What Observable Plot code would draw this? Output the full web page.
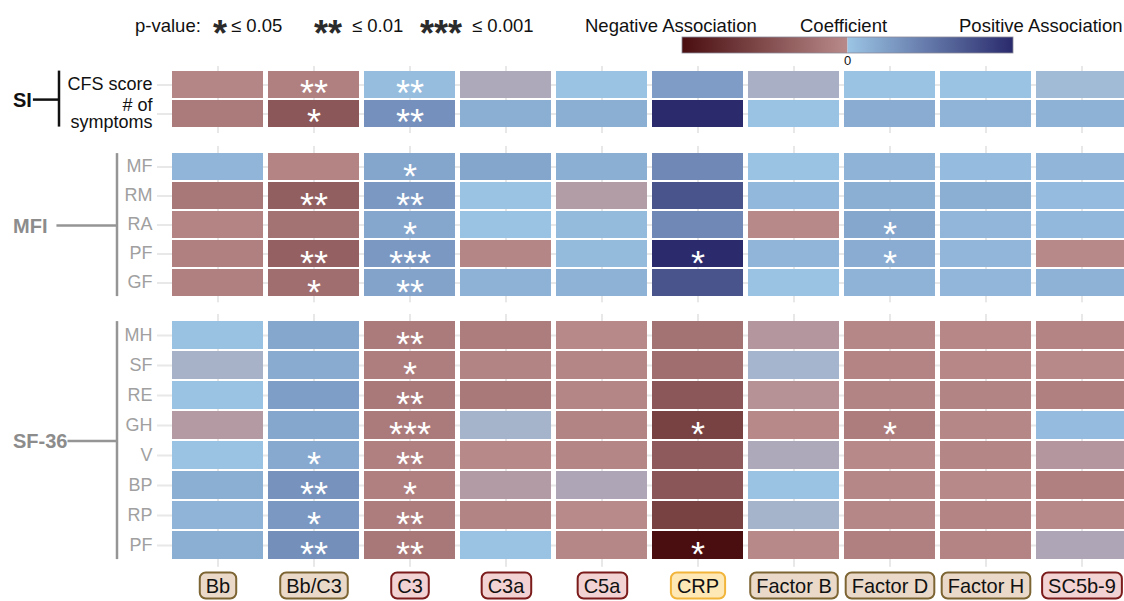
<!DOCTYPE html>
<html><head><meta charset="utf-8">
<script src="https://cdn.jsdelivr.net/npm/d3@7"></script>
<script src="https://cdn.jsdelivr.net/npm/@observablehq/plot@0.6"></script>
<style>
html,body{margin:0;padding:0;background:#ffffff;overflow:hidden;}
#root{position:relative;width:1124px;height:601px;overflow:hidden;font-family:"Liberation Sans",Arial,sans-serif;}
#root > *{position:absolute;left:0;}
</style></head><body><div id="root"></div>
<script>
// ---------------- DATA ----------------
const analytes = ["Bb","Bb/C3","C3","C3a","C5a","CRP","Factor B","Factor D","Factor H","SC5b-9"];
const analyteGroup = ["alt","alt","cls","cls","cls","crp","alt","alt","alt","cls"];

const siMeasures = ["CFS score","# of symptoms"];
const siLabels = ["CFS score","# of\nsymptoms"];
const siCoef = [
  [-0.055,-0.10, 0.065, 0.0,  0.03, 0.275, 0.005,0.025,0.03, 0.013],
  [-0.14, -0.42, 0.35,  0.16, 0.16, 1.0,   0.025,0.17, 0.12, 0.135]
];
const siSig = [
  ["","**","**","","","","","","",""],
  ["","*","**","","","","","","",""]
];

const mfiMeasures = ["MF","RM","RA","PF","GF"];
const mfiLabels = ["MF","RM","RA","PF","GF"];
const mfiCoef = [
  [ 0.115,-0.064,0.22, 0.22,  0.16,  0.40, 0.025,0.13,0.07, 0.115],
  [-0.17, -0.36, 0.30, 0.025,-0.008, 0.73, 0.095,0.16,0.16, 0.07],
  [-0.064,-0.21, 0.21, 0.03,  0.084, 0.40,-0.03, 0.21,0.11, 0.095],
  [-0.10, -0.35, 0.30,-0.055, 0.084, 1.0,  0.115,0.17,0.11,-0.03],
  [-0.10, -0.24, 0.23, 0.135, 0.135, 0.73, 0.025,0.13,0.11, 0.135]
];
const mfiSig = [
  ["","","*","","","","","","",""],
  ["","**","**","","","","","","",""],
  ["","","*","","","","","*","",""],
  ["","**","***","","","*","","*","",""],
  ["","*","**","","","","","","",""]
];

const sfMeasures = ["MH","SF","RE","GH","V","BP","RP","PF"];
const sfLabels = ["MH","SF","RE","GH","V","BP","RP","PF"];
const sfCoef = [
  [ 0.035,0.21,-0.14, -0.125,-0.025,-0.21,-0.012,-0.046,-0.04, -0.064],
  [ 0.007,0.18,-0.117,-0.07, -0.055,-0.24, 0.009,-0.064,-0.04, -0.025],
  [ 0.025,0.26,-0.16, -0.16, -0.055,-0.42,-0.015,-0.07, -0.07, -0.10],
  [-0.01, 0.21,-0.14,  0.008,-0.07, -0.59,-0.03, -0.125,-0.046, 0.07],
  [ 0.025,0.19,-0.10, -0.025,-0.055,-0.40, 0.0,  -0.025,-0.055,-0.012],
  [ 0.16, 0.34,-0.10, -0.009,-0.002,-0.43, 0.025,-0.046,-0.03, -0.10],
  [ 0.12, 0.30,-0.125,-0.07, -0.022,-0.59, 0.008,-0.046,-0.064,-0.025],
  [ 0.16, 0.36,-0.17,  0.025,-0.046,-1.0, -0.025,-0.10, -0.064,-0.002]
];
const sfSig = [
  ["","","**","","","","","","",""],
  ["","","*","","","","","","",""],
  ["","","**","","","","","","",""],
  ["","","***","","","*","","*","",""],
  ["","*","**","","","","","","",""],
  ["","**","*","","","","","","",""],
  ["","*","**","","","","","","",""],
  ["","**","**","","","*","","","",""]
];

const instrumentNames = ["SI","MFI","SF-36"];
const pLegendStars = ["*","**","***"];
const pLegendLabels = ["≤ 0.05","≤ 0.01","≤ 0.001"];

// ---------------- STYLE / LAYOUT ----------------
const colorDomain = [-1,-0.02,0,0.02,1];
const colorRange = ["#4a0e10","#b98a8a","#ada9bb","#9bc4e4","#2a2a6c"];
const groupStyle = {
  alt: {fill:"#ead9c9", stroke:"#7d6433"},
  cls: {fill:"#f2d2d2", stroke:"#7b1b1b"},
  crp: {fill:"#fee8b5", stroke:"#f2b53c"}
};
const FONT = '"Liberation Sans", Arial, sans-serif';
const PAD = 4;
const panels = [
  {name:instrumentNames[0], measures:siMeasures, labels:siLabels, coef:siCoef, sig:siSig, top:65.6, step:29.5, labelColor:"#111", bracketColor:"#111", bracketX:59, gap:1},
  {name:instrumentNames[1], measures:mfiMeasures, labels:mfiLabels, coef:mfiCoef, sig:mfiSig, top:146.1, step:29.66, labelColor:"#a0a0a0", bracketColor:"#959595", bracketX:117, gap:9},
  {name:instrumentNames[2], measures:sfMeasures, labels:sfLabels, coef:sfCoef, sig:sfSig, top:314.1, step:30.6, labelColor:"#a0a0a0", bracketColor:"#959595", bracketX:117, gap:0}
];

const root = document.getElementById("root");

function makePanel(p, isLast) {
  const data = p.measures.flatMap((m,i)=>analytes.map((a,j)=>({measure:m, analyte:a, coef:p.coef[i][j], sig:p.sig[i][j]})));
  const n = p.measures.length;
  const frameH = n*p.step + 2*PAD;
  const mb = isLast ? 34 : 0;
  const marks = [
    Plot.gridX({stroke:"#e8e8e8", strokeOpacity:1, strokeWidth:2}),
    Plot.gridY({stroke:"#e8e8e8", strokeOpacity:1, strokeWidth:2}),
    Plot.axisY({tickSize:0, tickPadding:5, color:p.labelColor, label:null, fontSize:18, lineHeight:0.95,
      tickFormat:(d)=>p.labels[p.measures.indexOf(d)]}),
    Plot.cell(data, {x:"analyte", y:"measure", fill:"coef", inset:0}),
    Plot.text(data.filter(d=>d.sig), {x:"analyte", y:"measure", text:"sig", fill:"white", fontSize:36, dy:9})
  ];
  if (isLast) marks.push(Plot.axisX({anchor:"bottom", tickSize:0, tickPadding:11, label:null, color:"#111", fontSize:20}));
  const plot = Plot.plot({
    width:1133, height:frameH+mb, marginLeft:157, marginRight:0, marginTop:0, marginBottom:mb,
    style:{background:"transparent", fontFamily:FONT, fontSize:"18px", maxWidth:"none", overflow:"visible"},
    x:Object.assign({domain:analytes, range:[167.5,1132.5], paddingInner:0.05, paddingOuter:0.025}, isLast?{}:{axis:null}),
    y:{domain:p.measures, range:[PAD, PAD+n*p.step], paddingInner:0.06, paddingOuter:0.03},
    color:{type:"linear", domain:colorDomain, range:colorRange, interpolate:"rgb"},
    marks
  });
  plot.style.top = p.top + "px";
  root.appendChild(plot);
  return plot;
}

const plots = panels.map((p,i)=>makePanel(p, i===panels.length-1));

// boxed x labels
{
  const svg = plots[plots.length-1];
  svg.querySelectorAll('g[aria-label="x-axis tick label"] text').forEach(t=>{
    const idx = analytes.indexOf(t.textContent);
    const st = groupStyle[analyteGroup[idx]];
    const bb = t.getBBox();
    const r = document.createElementNS("http://www.w3.org/2000/svg","rect");
    r.setAttribute("x", bb.x-6); r.setAttribute("y", bb.y-2);
    r.setAttribute("width", bb.width+12); r.setAttribute("height", bb.height+4);
    r.setAttribute("rx", 6);
    r.setAttribute("fill", st.fill); r.setAttribute("stroke", st.stroke); r.setAttribute("stroke-width", 2);
    if (t.getAttribute("transform")) r.setAttribute("transform", t.getAttribute("transform"));
    t.parentNode.insertBefore(r, t);
  });
}

// brackets
{
  const ov = d3.create("svg").attr("width",1124).attr("height",601).style("top","0px").style("font-family",FONT);
  root.appendChild(ov.node());
  panels.forEach((p,i)=>{
    const y = plots[i].scale("y");
    const top = p.top + y.apply(p.measures[0]);
    const bot = p.top + y.apply(p.measures[p.measures.length-1]) + y.bandwidth;
    const mid = (top+bot)/2;
    const t = ov.append("text").attr("x",13).attr("y",mid+1).attr("dominant-baseline","central")
      .attr("font-size",20).attr("font-weight","bold").attr("fill",i===0?"#111":"#8c8c8c").text(p.name);
    const bb = t.node().getBBox();
    ov.append("line").attr("x1",bb.x+bb.width+p.gap).attr("x2",p.bracketX).attr("y1",mid+1).attr("y2",mid+1)
      .attr("stroke",p.bracketColor).attr("stroke-width",2.5);
    ov.append("line").attr("x1",p.bracketX).attr("x2",p.bracketX).attr("y1",top).attr("y2",bot)
      .attr("stroke",p.bracketColor).attr("stroke-width",2.5);
  });
}

// legend
{
  const lg = d3.create("svg").attr("width",1124).attr("height",66).style("top","0px").style("font-family",FONT);
  root.appendChild(lg.node());
  lg.append("text").attr("x",135).attr("y",25).attr("dominant-baseline","central").attr("font-size",18.5).attr("fill","#111").text("p-value:");
  const starX = [213,314,420], labX = [231,352,472];
  pLegendStars.forEach((s,i)=>{
    lg.append("text").attr("x",starX[i]).attr("y",25+20.5).attr("font-size",36).attr("font-weight","bold").attr("fill","#2a2a2a").text(s);
    lg.append("text").attr("x",labX[i]).attr("y",25).attr("dominant-baseline","central").attr("font-size",18.5).attr("fill","#111").text(pLegendLabels[i]);
  });
  lg.append("text").attr("x",585).attr("y",25).attr("dominant-baseline","central").attr("font-size",18.5).attr("fill","#111").text("Negative Association");
  lg.append("text").attr("x",800).attr("y",25).attr("dominant-baseline","central").attr("font-size",18.5).attr("fill","#111").text("Coefficient");
  lg.append("text").attr("x",959).attr("y",25).attr("dominant-baseline","central").attr("font-size",18.5).attr("fill","#111").text("Positive Association");
  const cs = d3.scaleLinear().domain(colorDomain).range(colorRange).interpolate(d3.interpolateRgb);
  const defs = lg.append("defs");
  const halves = [[-1,-0.02,"gneg"],[0.02,1,"gpos"]];
  halves.forEach(([a,b,id])=>{
    const g = defs.append("linearGradient").attr("id",id);
    d3.range(0,1.0001,0.1).forEach(t=>g.append("stop").attr("offset",t).attr("stop-color",cs(a+(b-a)*t)));
  });
  const bx0 = 682, bx1 = 1013, bm = (bx0+bx1)/2, by = 37, bh = 16;
  lg.append("rect").attr("x",bx0).attr("y",by).attr("width",bm-bx0).attr("height",bh).attr("fill","url(#gneg)");
  lg.append("rect").attr("x",bm).attr("y",by).attr("width",bx1-bm).attr("height",bh).attr("fill","url(#gpos)");
  lg.append("rect").attr("x",bx0).attr("y",by).attr("width",bx1-bx0).attr("height",bh).attr("fill","none").attr("stroke","#8a8a9a").attr("stroke-width",0.8);
  lg.append("text").attr("x",bm).attr("y",60).attr("text-anchor","middle").attr("dominant-baseline","central").attr("font-size",13).attr("fill","#111").text("0");
}
</script></body></html>
